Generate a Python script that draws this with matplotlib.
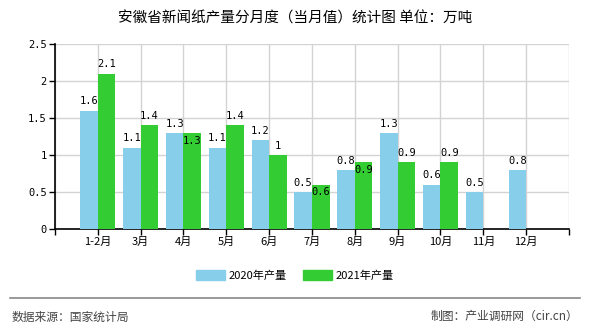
import numpy as np
import matplotlib
matplotlib.use('Agg')
import matplotlib.pyplot as plt
from matplotlib.lines import Line2D

plt.rcParams['font.family'] = ['Noto Sans CJK SC', 'DejaVu Sans']

months = ['1-2月', '3月', '4月', '5月', '6月', '7月', '8月', '9月', '10月', '11月', '12月']
v2020 = [1.6, 1.1, 1.3, 1.1, 1.2, 0.5, 0.8, 1.3, 0.6, 0.5, 0.8]
v2021 = [2.1, 1.4, 1.3, 1.4, 1.0, 0.6, 0.9, 0.9, 0.9, None, None]
yticks = [0, 0.5, 1, 1.5, 2, 2.5]
yticklabels = ['0', '0.5', '1', '1.5', '2', '2.5']

c20 = '#87ceeb'
c21 = '#33cc33'

fig = plt.figure(figsize=(5.9, 3.3), dpi=100)
ax = fig.add_axes([0.0932, 0.3061, 0.8712, 0.5606])

x = np.arange(len(months))
w = 0.41
ax.bar(x - w/2, v2020, w, color=c20, zorder=3)
x21 = [i for i, v in enumerate(v2021) if v is not None]
y21 = [v2021[i] for i in x21]
ax.bar(np.array(x21) + w/2, y21, w, color=c21, zorder=3)

lab = dict(fontsize=7.5, family='DejaVu Sans Mono', ha='center', zorder=5)
for i, v in enumerate(v2020):
    ax.annotate('%g' % v, (i - w/2, v), xytext=(0, 3), textcoords='offset points', va='bottom', **lab)
for i in x21:
    v = v2021[i]
    # labels that would clash with the 2020 label go inside the bar
    if abs(v - v2020[i]) <= 0.1001:
        ax.annotate('%g' % v, (i + w/2, v), xytext=(0, -2), textcoords='offset points', va='top', **lab)
    else:
        ax.annotate('%g' % v, (i + w/2, v), xytext=(0, 3), textcoords='offset points', va='bottom', **lab)

n = len(months)
ax.set_xlim(-1, n)
ax.set_ylim(0, 2.5)
ax.set_yticks(yticks)
ax.set_yticklabels(yticklabels, family='DejaVu Sans Mono', fontsize=7.5)
ax.set_xticks(list(x) + [-1, n])
ax.set_xticklabels(months + ['', ''], fontsize=8)
ax.grid(True, color='#d3d3d3', linewidth=1, zorder=0)
ax.set_axisbelow(True)
for s in ['top', 'right']:
    ax.spines[s].set_visible(False)
ax.spines['left'].set_linewidth(1.2)
ax.spines['bottom'].set_linewidth(1.2)
ax.tick_params(axis='both', length=4, width=1, pad=2)

fig.text(0.5, 0.945, '安徽省新闻纸产量分月度（当月值）统计图 单位：万吨', ha='center', va='center', fontsize=10.5)

handles = [plt.Rectangle((0, 0), 1, 1, color=c20), plt.Rectangle((0, 0), 1, 1, color=c21)]
fig.legend(handles, ['2020年产量', '2021年产量'], loc='center', bbox_to_anchor=(0.5, 0.165), ncol=2,
           frameon=False, fontsize=8, handlelength=2.6, handleheight=0.9, columnspacing=1.5, handletextpad=0.3)

fig.add_artist(Line2D([0.017, 0.983], [0.097, 0.097], color='#888888', lw=1.2))
fig.text(0.02, 0.04, '数据来源：国家统计局', ha='left', va='center', fontsize=8.5, color='#444444')
fig.text(0.98, 0.04, '制图：产业调研网（cir.cn）', ha='right', va='center', fontsize=8.5, color='#444444')

fig.savefig('out.png', dpi=100)
